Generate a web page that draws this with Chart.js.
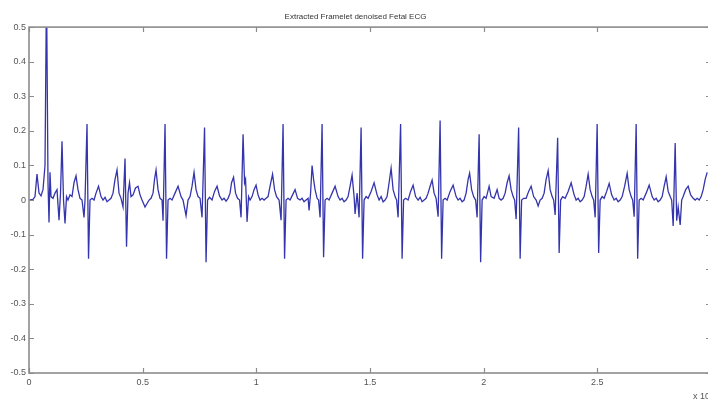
<!DOCTYPE html>
<html>
<head>
<meta charset="utf-8">
<script src="https://cdn.jsdelivr.net/npm/chart.js@4"></script>
<style>
  html, body { margin: 0; padding: 0; background: #fff; overflow: hidden; }
  #wrap { width: 720px; height: 403px; }
</style>
</head>
<body>
<div id="wrap"><canvas id="ecg" width="720" height="403"></canvas></div>
<script>
// sample index (x axis is shown as x 10^4)
const sampleIdx = [
  0,176,264,352,440,528,616,704,770,836,880,924,968,1056,1144,1232,1320,1386,
  1452,1518,1584,1650,1716,1804,1892,1980,2068,2156,2244,2332,2420,2464,
  2552,2618,2684,2772,2860,2948,3058,3168,3256,3344,3432,3520,3608,3696,3784,3872,3960,4048,4136,
  4224,4290,4356,4422,4488,4576,4686,4796,4884,4972,5104,5192,5280,5368,5456,5522,5588,5676,5764,5852,5896,
  5984,6050,6116,6204,6292,6424,6556,6688,6776,6908,6996,7084,7172,7260,7348,7436,7524,7612,
  7722,7788,7854,7942,8052,8162,8272,8382,8492,8580,8668,8756,8844,8910,8998,9086,9174,9262,9328,
  9416,9482,9526,9592,9658,9724,9812,9900,9988,10076,10164,10252,10340,10428,10516,10604,10714,10802,10890,11000,11088,
  11176,11242,11308,11396,11484,11594,11704,11814,11924,12012,12100,12188,12276,12320,12386,12452,12518,12584,12672,12738,12804,
  12892,12958,13024,13112,13200,13332,13464,13596,13684,13772,13860,13948,14036,14124,14212,14300,14344,14432,14520,
  14608,14674,14740,14828,14916,15048,15180,15312,15400,15488,15576,15664,15752,15840,15928,16016,16104,16170,16236,
  16346,16412,16478,16566,16676,16786,16896,17006,17116,17204,17292,17380,17468,17556,17644,17732,17820,17908,17996,
  18084,18150,18216,18304,18392,18524,18656,18788,18876,18964,19052,19140,19228,19316,19382,19470,19558,19646,19712,
  19800,19866,19932,20020,20108,20240,20328,20460,20592,20680,20768,20856,20944,21032,21120,21208,21296,21362,21428,
  21538,21604,21670,21758,21868,21978,22088,22198,22308,22396,22484,22572,22660,22748,22836,22924,23012,23078,23144,
  23254,23320,23386,23474,23584,23716,23848,23980,24068,24156,24244,24332,24420,24508,24596,24684,24772,24838,24904,
  24992,25058,25124,25212,25300,25410,25520,25630,25740,25828,25916,26004,26092,26202,26312,26400,26488,26554,26620,
  26708,26774,26840,26928,27016,27148,27280,27412,27500,27588,27676,27764,27852,27940,28028,28116,28204,28270,28336,
  28424,28490,28556,28644,28710,28776,28886,28996,29106,29216,29304,29392,29480,29568,29656,29744,29832
];

// denoised fetal ECG amplitude
const ecgVal = [
  0,0.002,0.01,0.075,0.02,0.012,0.03,0.10,0.62,0.05,-0.065,0.08,0.01,0.005,0.02,0.03,-0.058,0.02,
  0.17,0.0,-0.068,0.01,0.0,0.015,0.01,0.05,0.07,0.03,0.005,0.0,-0.05,0.0,
  0.22,-0.17,0.0,0.005,0.0,0.02,0.04,0.01,0.0,0.008,-0.005,0.0,0.005,0.02,0.06,0.087,0.02,0.005,-0.02,
  0.12,-0.135,0.02,0.05,0.01,0.015,0.035,0.04,0.015,0.0,-0.02,-0.01,0.0,0.005,0.02,0.06,0.087,0.03,0.005,0.0,-0.06,
  0.22,-0.17,0.0,0.005,0.0,0.02,0.04,0.01,0.0,-0.045,0.0,0.01,0.04,0.08,0.03,0.01,0.005,-0.05,
  0.21,-0.18,0.0,0.008,0.0,0.025,0.04,0.012,0.0,0.005,-0.003,0.005,0.02,0.05,0.066,0.02,0.005,0.0,-0.05,
  0.19,0.05,0.06,-0.063,0.01,0.0,0.01,0.03,0.043,0.015,0.0,0.005,0.0,0.005,0.01,0.04,0.075,0.03,0.01,0.0,-0.058,
  0.22,-0.17,0.0,0.005,0.0,0.015,0.03,0.005,0.0,0.005,-0.005,0.0,0.005,-0.03,0.02,0.10,0.06,0.03,0.005,0.0,-0.05,
  0.22,-0.165,0.0,0.005,0.0,0.02,0.04,0.01,0.0,0.005,-0.005,0.0,0.01,0.04,0.072,0.01,-0.04,0.02,-0.05,
  0.21,-0.17,0.0,0.01,0.005,0.025,0.05,0.015,0.0,0.01,-0.005,0.0,0.01,0.05,0.092,0.03,0.01,0.0,-0.05,
  0.22,-0.17,0.0,0.005,0.0,0.025,0.043,0.01,0.0,0.008,-0.005,0.0,0.005,0.02,0.04,0.058,0.02,0.005,-0.048,
  0.23,-0.17,0.0,0.005,0.0,0.025,0.043,0.01,0.0,0.005,-0.005,0.0,0.02,0.06,0.078,0.03,0.01,0.0,-0.05,
  0.19,-0.18,0.0,0.01,0.005,0.04,0.01,0.005,0.03,0.005,0.0,0.005,0.02,0.05,0.07,0.03,0.01,0.0,-0.055,
  0.21,-0.17,0.0,0.005,0.005,0.025,0.04,0.01,0.0,-0.017,0.0,0.005,0.02,0.06,0.085,0.03,0.01,0.0,-0.043,
  0.18,-0.153,0.0,0.01,0.005,0.025,0.05,0.015,0.0,0.005,-0.005,0.0,0.01,0.04,0.075,0.03,0.01,0.0,-0.05,
  0.22,-0.153,0.0,0.01,0.005,0.025,0.048,0.015,0.0,0.005,-0.005,0.0,0.01,0.04,0.077,0.03,0.01,0.0,-0.048,
  0.22,-0.17,0.0,0.005,0.0,0.02,0.043,0.01,0.0,0.005,-0.005,0.0,0.01,0.04,0.067,0.025,0.01,0.0,-0.075,
  0.165,-0.06,-0.02,-0.072,0.0,0.01,0.03,0.04,0.015,0.005,0.0,0.005,0.0,0.01,0.03,0.06,0.08
];

const xTicks = [0, 5000, 10000, 15000, 20000, 25000, 30000];
const yTicks = [-0.5, -0.4, -0.3, -0.2, -0.1, 0, 0.1, 0.2, 0.3, 0.4, 0.5];
const titleText = 'Extracted Framelet denoised Fetal ECG';

const points = sampleIdx.map((s, i) => ({ x: s, y: ecgVal[i] }));
const font = { family: "'Liberation Sans', Arial, sans-serif", size: 9 };

// matlab style box with inward ticks + the exponent note
const boxPlugin = {
  id: 'box',
  afterDraw(chart) {
    const c = chart.ctx, a = chart.chartArea;
    const sx = chart.scales.x, sy = chart.scales.y;
    c.save();
    c.strokeStyle = '#8c8c8c';
    c.lineWidth = 1.6;
    c.strokeRect(a.left, a.top, a.right - a.left, a.bottom - a.top);
    c.lineWidth = 1.2;
    c.beginPath();
    xTicks.forEach(v => {
      const px = Math.round(sx.getPixelForValue(v)) + 0.5;
      c.moveTo(px, a.bottom); c.lineTo(px, a.bottom - 5);
      c.moveTo(px, a.top); c.lineTo(px, a.top + 5);
    });
    yTicks.forEach(v => {
      const py = Math.round(sy.getPixelForValue(v)) + 0.5;
      c.moveTo(a.left, py); c.lineTo(a.left + 5, py);
      c.moveTo(a.right, py); c.lineTo(a.right - 5, py);
    });
    c.stroke();
    c.fillStyle = '#555';
    c.font = "9px 'Liberation Sans', Arial, sans-serif";
    c.textBaseline = 'middle';
    c.fillText('x 10', 693, 397);
    c.font = "7px 'Liberation Sans', Arial, sans-serif";
    c.fillText('4', 711, 392);
    c.restore();
  }
};

new Chart(document.getElementById('ecg'), {
  type: 'line',
  data: {
    datasets: [{
      data: points,
      borderColor: '#3434ad',
      borderWidth: 1.3,
      pointRadius: 0,
      tension: 0,
      fill: false
    }]
  },
  options: {
    responsive: false,
    animation: false,
    devicePixelRatio: 1,
    layout: { padding: { left: 0, right: 9, top: 0, bottom: 0 } },
    plugins: {
      legend: { display: false },
      tooltip: { enabled: false },
      title: {
        display: true,
        text: titleText,
        color: '#333',
        font: { family: font.family, size: 8, weight: 'normal' },
        padding: { top: 11.5, bottom: 6 }
      }
    },
    scales: {
      x: {
        type: 'linear',
        min: 0,
        max: 30000,
        afterBuildTicks(scale) { scale.ticks = xTicks.map(v => ({ value: v })); },
        afterFit(scale) { scale.height = 30; },
        grid: { display: false, drawTicks: false },
        border: { display: false },
        ticks: {
          color: '#555',
          font: font,
          padding: 4,
          maxRotation: 0,
          autoSkip: false,
          callback: v => v > 29000 ? '' : String(v / 10000)
        }
      },
      y: {
        min: -0.5,
        max: 0.5,
        afterBuildTicks(scale) { scale.ticks = yTicks.map(v => ({ value: v })); },
        afterFit(scale) { scale.width = 29; },
        grid: { display: false, drawTicks: false },
        border: { display: false },
        ticks: {
          color: '#555',
          font: font,
          padding: 3,
          autoSkip: false,
          callback: v => String(Math.round(v * 10) / 10)
        }
      }
    }
  },
  plugins: [boxPlugin]
});
</script>
</body>
</html>
